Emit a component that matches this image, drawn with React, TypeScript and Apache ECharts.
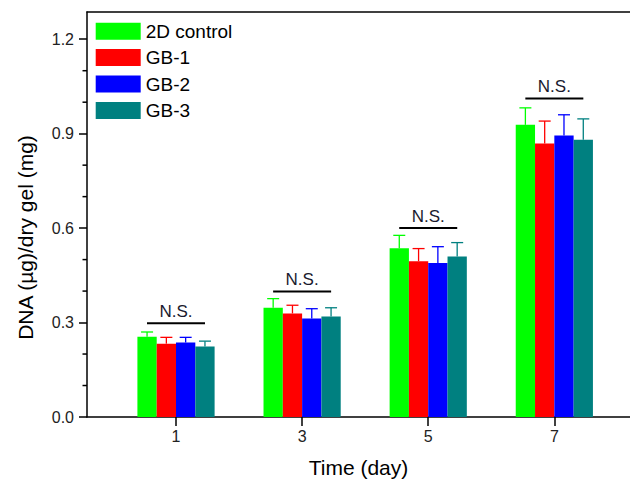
import React, { useEffect, useRef } from "react";
import * as echarts from "echarts";

const days = [1, 3, 5, 7];
const seriesNames = ["2D control", "GB-1", "GB-2", "GB-3"];
const colors = ["#00ff00", "#ff0000", "#0000ff", "#008080"];
const control2D = [0.255, 0.347, 0.536, 0.928];
const gb1 = [0.233, 0.329, 0.495, 0.869];
const gb2 = [0.237, 0.313, 0.489, 0.894];
const gb3 = [0.224, 0.319, 0.51, 0.881];
const control2DErr = [0.015, 0.029, 0.041, 0.054];
const gb1Err = [0.02, 0.026, 0.04, 0.071];
const gb2Err = [0.016, 0.031, 0.052, 0.066];
const gb3Err = [0.017, 0.028, 0.044, 0.066];
const nsLevels = [0.298, 0.399, 0.6, 1.012];
const yMajorTicks = [0, 0.3, 0.6, 0.9, 1.2];
const yMinorTicks = [0.1, 0.2, 0.4, 0.5, 0.7, 0.8, 1.0, 1.1];

const values = [control2D, gb1, gb2, gb3];
const errors = [control2DErr, gb1Err, gb2Err, gb3Err];

const BAR_W = 19.3;
const FONT = "Liberation Sans, Arial, sans-serif";
const X_MIN = -0.4116;
const X_MAX = 8.2;
const Y_MAX = 1.2865;

export default function App() {
  const ref = useRef<HTMLDivElement>(null);
  useEffect(() => {
    if (!ref.current) return;
    const chart = echarts.init(ref.current, null, { renderer: "svg" });

    const barSeries = seriesNames.map((name, i) => ({
      name,
      type: "bar",
      barWidth: BAR_W,
      barGap: "0%",
      itemStyle: { color: colors[i] },
      data: days.map((d, j) => [d, values[i][j]]),
      z: 2,
    }));

    const errSeries = seriesNames.map((name, i) => ({
      name: name + " err",
      type: "custom",
      data: days.map((d, j) => [d, values[i][j], errors[i][j]]),
      encode: { x: 0, y: 1 },
      z: 3,
      renderItem: (params: any, api: any) => {
        const x = api.value(0);
        const y = api.value(1);
        const e = api.value(2);
        const p = api.coord([x, y]);
        const t = api.coord([x, y + e]);
        const cx = p[0] + (i - 1.5) * BAR_W;
        const style = { stroke: colors[i], lineWidth: 1.3 };
        return {
          type: "group",
          children: [
            { type: "line", shape: { x1: cx, y1: p[1], x2: cx, y2: t[1] }, style },
            { type: "line", shape: { x1: cx - 6, y1: t[1], x2: cx + 6, y2: t[1] }, style },
          ],
        };
      },
    }));

    const nsSeries = {
      name: "ns",
      type: "custom",
      data: days.map((d, j) => [d, nsLevels[j]]),
      encode: { x: 0, y: 1 },
      z: 4,
      renderItem: (params: any, api: any) => {
        const p = api.coord([api.value(0), api.value(1)]);
        return {
          type: "group",
          children: [
            {
              type: "line",
              shape: { x1: p[0] - 29, y1: p[1], x2: p[0] + 29, y2: p[1] },
              style: { stroke: "#000", lineWidth: 2 },
            },
            {
              type: "text",
              x: p[0],
              y: p[1] - 11.5,
              style: {
                text: "N.S.",
                fontSize: 17,
                fontFamily: FONT,
                fill: "#1a1a2e",
                align: "center",
                verticalAlign: "middle",
              },
            },
          ],
        };
      },
    };

    const minorTickSeries = {
      name: "minor ticks",
      type: "custom",
      clip: false,
      silent: true,
      data: yMinorTicks.map((v) => [X_MIN, v]),
      encode: { x: 0, y: 1 },
      z: 5,
      renderItem: (params: any, api: any) => {
        const p = api.coord([api.value(0), api.value(1)]);
        return {
          type: "line",
          shape: { x1: p[0] - 4.5, y1: p[1], x2: p[0], y2: p[1] },
          style: { stroke: "#000", lineWidth: 1.5 },
        };
      },
    };

    chart.setOption({
      animation: false,
      backgroundColor: "#fff",
      grid: { left: 87, top: 12, width: 543, height: 406.3 },
      legend: {
        orient: "vertical",
        left: 95.7,
        top: 21.7,
        padding: 0,
        itemWidth: 45,
        itemHeight: 17,
        itemGap: 7.4,
        icon: "rect",
        data: seriesNames,
        textStyle: { fontSize: 19, fontFamily: FONT, color: "#000", lineHeight: 17 },
      },
      xAxis: [
        {
          type: "value",
          min: X_MIN,
          max: X_MAX,
          position: "bottom",
          splitLine: { show: false },
          axisLine: { show: true, onZero: false, lineStyle: { color: "#000", width: 1.5 } },
          axisTick: { show: true, customValues: days, length: 9, inside: false, lineStyle: { color: "#000", width: 1.5 } },
          axisLabel: {
            customValues: days,
            margin: 11,
            fontSize: 16,
            fontFamily: FONT,
            color: "#222",
            formatter: (v: number) => String(v),
          },
          name: "Time (day)",
          nameLocation: "middle",
          nameGap: 40,
          nameTextStyle: { fontSize: 21, fontFamily: FONT, color: "#000" },
        },
        {
          type: "value",
          min: X_MIN,
          max: X_MAX,
          position: "top",
          splitLine: { show: false },
          axisLine: { show: true, onZero: false, lineStyle: { color: "#000", width: 1.5 } },
          axisTick: { show: false },
          axisLabel: { show: false },
        },
      ],
      yAxis: [
        {
          type: "value",
          min: 0,
          max: Y_MAX,
          position: "left",
          splitLine: { show: false },
          axisLine: { show: true, onZero: false, lineStyle: { color: "#000", width: 1.5 } },
          axisTick: { show: true, customValues: yMajorTicks, length: 8, inside: false, lineStyle: { color: "#000", width: 1.5 } },
          axisLabel: {
            customValues: yMajorTicks,
            margin: 13,
            fontSize: 16,
            fontFamily: FONT,
            color: "#222",
            formatter: (v: number) => v.toFixed(1),
          },
        },
      ],
      graphic: [
        {
          type: "text",
          x: 25,
          y: 237.5,
          rotation: Math.PI / 2,
          style: {
            text: "DNA (µg)/dry gel (mg)",
            fontSize: 21,
            fontFamily: FONT,
            fill: "#000",
            align: "center",
            verticalAlign: "middle",
          },
        },
      ],
      series: [...barSeries, ...errSeries, nsSeries, minorTickSeries],
    });
    return () => chart.dispose();
  }, []);
  return (
    <div
      ref={ref}
      style={{ position: "absolute", left: 0, top: 0, width: 630, height: 483, background: "#fff" }}
    />
  );
}
